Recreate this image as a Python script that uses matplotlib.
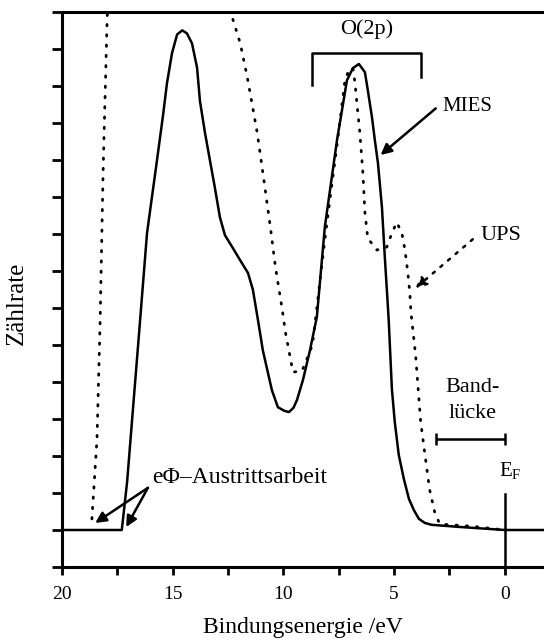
import numpy as np
import matplotlib.pyplot as plt

plt.rcParams['font.family'] = ['Liberation Serif', 'DejaVu Serif']

# MIES spectrum (solid)
mies_ev = [20.0, 17.3, 17.06, 16.48, 16.16, 15.71, 15.44, 15.26, 15.03, 14.8, 14.57,
           14.36, 14.13, 13.9, 13.77, 13.54, 13.32, 13.1, 12.87, 12.64, 12.28, 11.96,
           11.6, 11.38, 11.15, 10.93, 10.52, 10.25, 9.95, 9.75, 9.55, 9.39, 9.12,
           8.8, 8.49, 8.13, 7.58, 7.13, 6.86, 6.59, 6.32, 6.19, 6.0, 5.87, 5.73,
           5.55, 5.42, 5.28, 5.24, 5.1, 4.97, 4.79, 4.56, 4.33, 4.11, 3.88, 3.61,
           3.3, 2.0, 0.0, -1.8]
mies_cts = [1.0, 1.0, 2.3, 6.62, 9.03, 11.0, 12.2, 13.08, 13.9, 14.4, 14.51,
            14.43, 14.16, 13.5, 12.6, 11.73, 11.0, 10.27, 9.46, 8.97, 8.62, 8.3,
            7.95, 7.5, 6.68, 5.86, 4.78, 4.32, 4.22, 4.19, 4.3, 4.51, 5.05,
            5.86, 6.76, 9.19, 11.54, 13.16, 13.49, 13.6, 13.38, 12.9, 12.16, 11.54, 10.92,
            9.73, 8.38, 7.03, 6.62, 4.81, 3.92, 3.03, 2.38, 1.84, 1.54, 1.3, 1.19,
            1.14, 1.08, 1.0, 1.0]

# UPS spectrum (dotted)
ups_ev = [18.65, 18.42, 18.28, 18.14, 17.96, 17.8, 15.0, 12.5, 12.33, 11.95, 11.63,
          11.18, 10.9, 10.59, 10.36, 10.05, 9.91, 9.57, 9.16, 8.69, 8.1, 7.56,
          7.22, 7.0, 6.85, 6.77, 6.68, 6.55, 6.41, 6.32, 6.19, 5.78, 5.33, 5.1,
          4.88, 4.65, 4.51, 4.38, 4.29, 4.24, 4.03, 3.8, 3.4, 3.17, 2.94, 1.45, 0.0]
ups_cts = [1.3, 3.46, 6.62, 10.8, 14.86, 16.5, 22.0, 16.0, 14.9, 14.16, 13.24,
           11.73, 10.54, 9.19, 8.11, 6.95, 6.35, 5.27, 5.3, 6.0, 9.0, 11.5,
           13.16, 13.5, 13.45, 13.1, 12.54, 11.76, 10.65, 9.59, 8.89, 8.57, 8.65, 9.03,
           9.32, 9.03, 8.57, 7.95, 7.41, 6.89, 5.73, 3.92, 2.1, 1.49, 1.16, 1.1, 1.0]

xticks = [20, 17.5, 15, 12.5, 10, 7.5, 5, 2.5, 0]
xticklabels = ['20', '', '15', '', '10', '', '5', '', '0']

fig = plt.figure(figsize=(5.44, 6.44), dpi=100)
ax = fig.add_axes([0.114, 0.1196, 0.886, 0.8614])

ax.plot(mies_ev, mies_cts, color='black', lw=1.8, solid_joinstyle='round')
ax.plot(ups_ev, ups_cts, color='black', lw=2.0, linestyle=(0, (0.5, 3.2)),
        dash_capstyle='round')

ax.set_xlim(20, -1.77)
ax.set_ylim(0, 15)
ax.set_xticks(xticks)
ax.set_xticklabels(xticklabels)
ax.set_yticks(np.arange(0, 16, 1))
ax.set_yticklabels([])
ax.tick_params(axis='x', direction='out', length=6, width=2, labelsize=14, pad=8)
ax.tick_params(axis='y', direction='out', length=7, width=2)
for side in ['left', 'top', 'bottom']:
    ax.spines[side].set_linewidth(2.2)
ax.spines['right'].set_visible(False)

ax.set_xlabel('Bindungsenergie /eV', fontsize=17, labelpad=10)
ax.set_ylabel('Zählrate', fontsize=18)
ax.yaxis.set_label_coords(-0.071, 0.476)

# O(2p) bracket
ax.plot([8.73, 8.73, 3.8, 3.8], [13.03, 13.89, 13.89, 13.24], color='black', lw=1.8)
ax.text(6.25, 14.55, 'O(2p)', fontsize=16, ha='center', va='center')

# MIES label
ax.annotate('', xy=(5.61, 11.14), xytext=(3.12, 12.4),
            arrowprops=dict(arrowstyle='-|>', color='black', lw=1.8,
                            mutation_scale=16, shrinkA=0, shrinkB=0))
ax.text(2.8, 12.45, 'MIES', fontsize=15, ha='left', va='center')

# UPS label
ax.annotate('', xy=(4.03, 7.54), xytext=(1.45, 8.86),
            arrowprops=dict(arrowstyle='-|>', color='black', lw=1.8, ls=(0, (1, 3)),
                            mutation_scale=16, shrinkA=0, shrinkB=0))
ax.text(1.1, 8.95, 'UPS', fontsize=16, ha='left', va='center')

# band gap
ax.errorbar([1.56], [3.46], xerr=[[1.56], [1.56]], color='black', lw=1.8,
            capsize=4, capthick=1.8)
ax.text(1.45, 4.5, 'Band-\nlücke', fontsize=16, ha='center', va='center',
        linespacing=1.55)

# Fermi level
ax.plot([0, 0], [0, 1.97], color='black', lw=1.8)
ax.text(0.27, 2.6, r'E$_\mathregular{F}$', fontsize=15, ha='left', va='center')

# work function
for tip in [(18.5, 1.19), (17.1, 1.08)]:
    ax.annotate('', xy=tip, xytext=(16.12, 2.14),
                arrowprops=dict(arrowstyle='-|>', color='black', lw=1.8,
                                mutation_scale=16, shrinkA=0, shrinkB=0))
ax.text(15.93, 2.43, 'eΦ–Austrittsarbeit', fontsize=17, ha='left', va='center')

fig.savefig('out.png', dpi=100)
